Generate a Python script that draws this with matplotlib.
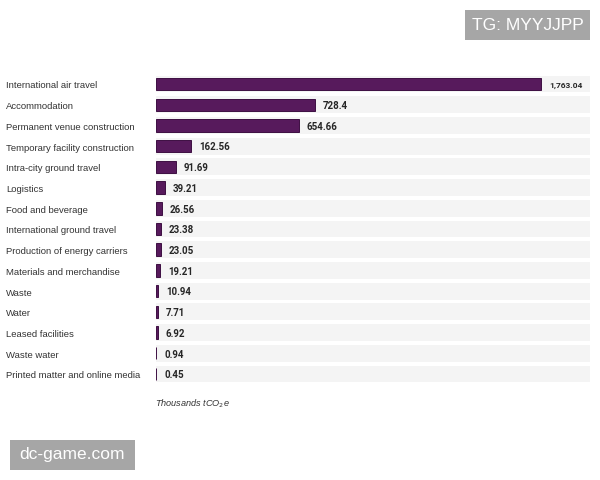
import matplotlib.pyplot as plt
from matplotlib.patches import Rectangle

categories = ["International air travel", "Accommodation", "Permanent venue construction",
              "Temporary facility construction", "Intra-city ground travel", "Logistics",
              "Food and beverage", "International ground travel", "Production of energy carriers",
              "Materials and merchandise", "Waste", "Water", "Leased facilities",
              "Waste water", "Printed matter and online media"]
values = [1763.04, 728.4, 654.66, 162.56, 91.69, 39.21, 26.56, 23.38, 23.05, 19.21,
          10.94, 7.71, 6.92, 0.94, 0.45]
value_labels = ["1,763.04", "728.4", "654.66", "162.56", "91.69", "39.21", "26.56", "23.38",
                "23.05", "19.21", "10.94", "7.71", "6.92", "0.94", "0.45"]
unit_label = "Thousands tCO$_2$e"

W, H = 600, 480
fig = plt.figure(figsize=(6, 4.8), dpi=100)
fig.patch.set_facecolor("white")

row = 20.7
top_px = 84 - row / 2
bottom_px = 374 + row / 2
left_px, right_px = 156, 590
ax = fig.add_axes([left_px / W, 1 - bottom_px / H, (right_px - left_px) / W, (bottom_px - top_px) / H])
xmax = 1763.04 * (right_px - left_px) / (541 - left_px)
ax.set_xlim(0, xmax)
n = len(categories)
ax.set_ylim(n - 0.5, -0.5)
ax.axis("off")

ys = list(range(n))
# background bands
ax.barh(ys, [xmax] * n, height=0.82, left=0, color="#f4f4f4", zorder=0)
bar_color = "#571a5c"
ax.barh(ys, values, height=0.6, color=bar_color, edgecolor="#3d0f42", linewidth=0.7, zorder=2)

px_per_unit = (right_px - left_px) / xmax
for y, v, lab in zip(ys, values, value_labels):
    off = 8 / px_per_unit
    fs = 6.0 if y == 0 else 7.0
    ax.text(v + off, y + 0.06, lab, va="center", ha="left", fontsize=fs, fontweight="bold",
            color="#262626", family="Roboto", zorder=3)
    fig.text(6 / W, 1 - (86 + y * row) / H, categories[y], va="center", ha="left",
             fontsize=6.8, color="#333333", family="Liberation Sans")

fig.text(155 / W, 1 - 404 / H, unit_label, fontsize=6.6, style="italic", color="#333333",
         va="center", ha="left", family="Liberation Sans")

# watermarks
fig.patches.append(Rectangle((465 / W, 1 - 40 / H), 125 / W, 30 / H, transform=fig.transFigure,
                             facecolor="#a6a6a6", edgecolor="none", zorder=5))
fig.text(527.5 / W, 1 - 25 / H, "TG: MYYJJPP", fontsize=12.5, color="white", ha="center", va="center",
         family="Liberation Sans", zorder=6)
fig.patches.append(Rectangle((10 / W, 1 - 470 / H), 125 / W, 30 / H, transform=fig.transFigure,
                             facecolor="#a6a6a6", edgecolor="none", zorder=5))
fig.text(72.5 / W, 1 - 455 / H, "dc-game.com", fontsize=12.5, color="white", ha="center", va="center",
         family="Liberation Sans", zorder=6)

fig.savefig("out.png", dpi=100)
